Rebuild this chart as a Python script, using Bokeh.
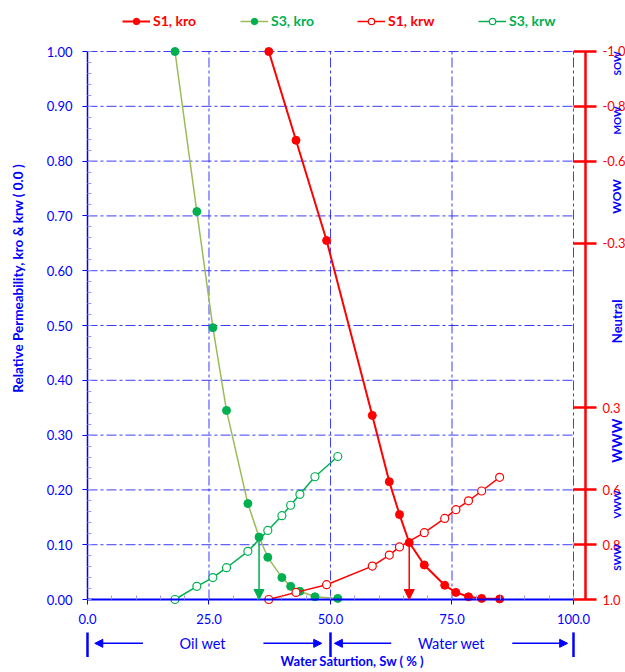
import math
from bokeh.plotting import figure
from bokeh.models import (Range1d, LinearAxis, FixedTicker, SingleIntervalTicker,
                          NumeralTickFormatter, Legend, LegendItem, Label, Arrow, NormalHead)
from bokeh.embed import file_html
from bokeh.resources import INLINE

# ---------------- data ----------------
s1_sw_kro = [37.3, 42.9, 49.2, 58.6, 62.1, 64.2, 66.2, 69.3, 73.5, 75.8, 78.4, 81.1, 84.8]
s1_kro = [1.0, 0.838, 0.655, 0.336, 0.215, 0.155, 0.104, 0.063, 0.026, 0.013, 0.005, 0.002, 0.001]
s1_sw_krw = [37.3, 42.9, 49.2, 58.6, 62.1, 64.2, 69.3, 73.5, 75.8, 78.4, 81.1, 84.8]
s1_krw = [0.0, 0.013, 0.027, 0.061, 0.081, 0.096, 0.122, 0.148, 0.164, 0.180, 0.198, 0.223]

s3_sw_kro = [18.0, 22.5, 25.8, 28.6, 33.0, 35.3, 37.1, 40.0, 41.8, 43.7, 46.8, 51.5]
s3_kro = [1.0, 0.708, 0.496, 0.345, 0.175, 0.114, 0.077, 0.040, 0.024, 0.015, 0.005, 0.002]
s3_sw_krw = [18.0, 22.5, 25.8, 28.6, 33.0, 37.1, 40.0, 41.8, 43.7, 46.8, 51.5]
s3_krw = [0.0, 0.024, 0.040, 0.058, 0.088, 0.126, 0.153, 0.172, 0.192, 0.224, 0.261]

# crossover points (kro = krw)
cross_sw = [35.3, 66.2]
cross_k = [0.114, 0.104]

series_names = ["S1, kro", "S3, kro", "S1, krw", "S3, krw"]

x_grid_ticks = [25, 50, 75, 100]
y_grid_ticks = [0.1, 0.2, 0.3, 0.4, 0.5, 0.6, 0.7, 0.8, 0.9, 1.0]
wet_ticks = [-1.0, -0.8, -0.6, -0.3, 0.3, 0.6, 0.8, 1.0]
wet_zones = ["SOW", "MOW", "WOW", "Neutral", "WWW", "VWW", "SWW"]

# ---------------- style / layout ----------------
BLUE = "#0000FF"
RED = "#FF0000"
GREEN = "#00B050"
OLIVE = "#9BBB59"
FONT = "Lato"
W, H = 625, 672
zone_pos = [-0.956, -0.748, -0.471, -0.015, 0.42, 0.653, 0.847]
zone_size = ["10px", "10px", "12px", "13px", "14px", "10px", "10px"]

# The frame fills the whole canvas; axes are pinned with fixed_location.
p = figure(width=W, height=H, output_backend="svg", toolbar_location=None,
           x_range=Range1d(-17.90, 110.70), y_range=Range1d(-0.1332, 1.0931),
           x_axis_type=None, y_axis_type=None,
           min_border=0, min_border_left=0, min_border_right=0,
           min_border_top=0, min_border_bottom=0)
p.outline_line_color = None
p.background_fill_color = "white"
p.border_fill_color = "white"

# axes
xaxis = LinearAxis(ticker=SingleIntervalTicker(interval=25, num_minor_ticks=5),
                   formatter=NumeralTickFormatter(format="0.0"), bounds=(0, 100),
                   fixed_location=0)
yaxis = LinearAxis(ticker=SingleIntervalTicker(interval=0.1, num_minor_ticks=5),
                   formatter=NumeralTickFormatter(format="0.00"), bounds=(0, 1),
                   fixed_location=0)
for ax in (xaxis, yaxis):
    ax.axis_line_color = BLUE
    ax.axis_line_width = 1.5
    ax.major_tick_line_color = BLUE
    ax.major_tick_in = 0
    ax.major_tick_out = 5
    ax.minor_tick_line_color = "#9A9AFF"
    ax.minor_tick_in = 4
    ax.minor_tick_out = 0
    ax.major_label_text_color = BLUE
    ax.major_label_text_font = FONT
    ax.major_label_text_font_size = "13px"
xaxis.axis_line_width = 2
xaxis.major_label_standoff = 9
yaxis.major_label_standoff = 10
p.add_layout(xaxis, "below")
p.add_layout(yaxis, "left")

p.extra_y_ranges = {"wet": Range1d(start=1.2664, end=-1.1861)}
raxis = LinearAxis(y_range_name="wet", ticker=FixedTicker(ticks=wet_ticks, minor_ticks=[]),
                   formatter=NumeralTickFormatter(format="0.0"), bounds=(-1, 1),
                   fixed_location=102.47)
raxis.axis_line_color = RED
raxis.axis_line_width = 2.5
raxis.major_tick_line_color = RED
raxis.major_tick_line_width = 2.5
raxis.major_tick_in = 12
raxis.major_tick_out = 11
raxis.major_label_text_color = RED
raxis.major_label_text_font = FONT
raxis.major_label_text_font_size = "13px"
raxis.major_label_standoff = 6
p.add_layout(raxis, "right")

# grid (dash-dot)
GRID = dict(line_color="#1A1AFF", line_alpha=0.85, line_width=1, line_dash="10 3 3 3")
p.multi_line(xs=[[0, 100] for _ in y_grid_ticks], ys=[[y, y] for y in y_grid_ticks], **GRID)
p.multi_line(xs=[[x, x] for x in x_grid_ticks], ys=[[0, 1] for _ in x_grid_ticks], **GRID)

# series
l1 = p.line(s1_sw_kro, s1_kro, line_color=RED, line_width=2)
m1 = p.scatter(s1_sw_kro, s1_kro, marker="circle", size=8, fill_color=RED, line_color=RED)
l2 = p.line(s3_sw_kro, s3_kro, line_color=OLIVE, line_width=1.5)
m2 = p.scatter(s3_sw_kro, s3_kro, marker="circle", size=8, fill_color=GREEN, line_color=GREEN)
l3 = p.line(s1_sw_krw, s1_krw, line_color=RED, line_width=1.5)
m3 = p.scatter(s1_sw_krw, s1_krw, marker="circle", size=8, fill_color="white", line_color=RED, line_width=1.2)
l4 = p.line(s3_sw_krw, s3_krw, line_color=GREEN, line_width=1.5)
m4 = p.scatter(s3_sw_krw, s3_krw, marker="circle", size=8, fill_color="white", line_color=GREEN, line_width=1.2)

# crossover arrows
for cx, cy, col in zip(cross_sw, cross_k, [GREEN, RED]):
    p.add_layout(Arrow(end=NormalHead(size=10, fill_color=col, line_color=col),
                       x_start=cx, y_start=cy, x_end=cx, y_end=0,
                       line_color=col, line_width=1.5))

# legends (one per series so that each label keeps its own colour)
leg_x = [122, 240, 357, 478]
leg_cols = [RED, GREEN, RED, GREEN]
leg_rends = [[l1, m1], [l2, m2], [l3, m3], [l4, m4]]
for name, lx, col, rends in zip(series_names, leg_x, leg_cols, leg_rends):
    leg = Legend(items=[LegendItem(label=name, renderers=rends)], location=(lx, H - 29),
                 orientation="horizontal", background_fill_alpha=0, border_line_color=None,
                 padding=0, margin=0, spacing=0, glyph_width=28, glyph_height=16,
                 label_height=16, label_standoff=3, label_text_color=col,
                 label_text_font=FONT, label_text_font_style="bold",
                 label_text_font_size="14px", label_text_baseline="middle")
    p.add_layout(leg, "center")

# wettability zone labels beside the right axis
for txt, pos, fs in zip(wet_zones, zone_pos, zone_size):
    p.add_layout(Label(x=108.9, y=pos, y_range_name="wet", text=txt, angle=math.pi / 2,
                       text_align="center", text_baseline="middle", text_color=BLUE,
                       text_font=FONT, text_font_style="bold", text_font_size=fs))

# axis titles
p.add_layout(Label(x=-14.2, y=0.586, text="Relative Permeability, kro & krw ( 0.0 )",
                   angle=math.pi / 2, text_align="center", text_baseline="middle",
                   text_color=BLUE, text_font=FONT, text_font_style="bold",
                   text_font_size="13.5px"))
p.add_layout(Label(x=54.5, y=-0.1131, text="Water Saturtion, Sw ( % )",
                   text_align="center", text_baseline="middle",
                   text_color=BLUE, text_font=FONT, text_font_style="bold",
                   text_font_size="13px"))

# oil wet / water wet band under the x axis
ROW = -0.080
for xb in [0, 50, 100]:
    p.add_layout(Arrow(start=None, end=None, x_start=xb, x_end=xb, y_start=-0.060, y_end=-0.105,
                       line_color=BLUE, line_width=2.5))
for xs, xe in [(11.4, 1.5), (36.2, 48.2), (62.5, 50.8), (87.4, 98.8)]:
    p.add_layout(Arrow(end=NormalHead(size=8, fill_color=BLUE, line_color=BLUE),
                       x_start=xs, y_start=ROW, x_end=xe, y_end=ROW,
                       line_color=BLUE, line_width=1.5))
for txt, xc in [("Oil wet", 23.7), ("Water wet", 74.9)]:
    p.add_layout(Label(x=xc, y=ROW, text=txt, text_align="center", text_baseline="middle",
                       text_color=BLUE, text_font=FONT, text_font_size="14.5px"))

open("out.html", "w").write(file_html(p, INLINE))
